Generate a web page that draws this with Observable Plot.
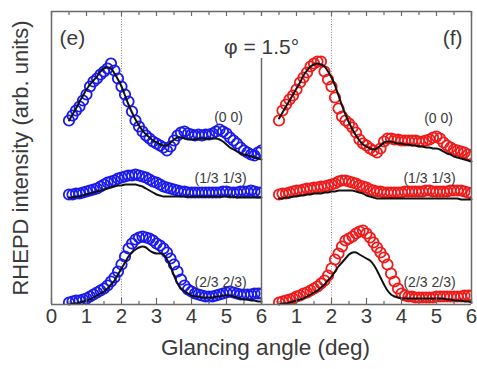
<!DOCTYPE html>
<html><head><meta charset="utf-8">
<script src="https://cdn.jsdelivr.net/npm/d3@7"></script>
<script src="https://cdn.jsdelivr.net/npm/@observablehq/plot@0.6"></script>
<style>
body{margin:0;background:#fff;}
#chart{width:477px;height:369px;}
</style>
</head><body><div id="chart"></div>
<script>
// Glancing angles (deg) at which the curves are sampled
const angles = [0.5,0.6,0.7,0.8,0.9,1.0,1.1,1.2,1.3,1.4,1.5,1.6,1.7,1.8,1.9,2.0,2.1,2.2,2.3,2.4,2.5,2.6,2.7,2.8,2.9,3.0,3.1,3.2,3.3,3.4,3.5,3.6,3.7,3.8,3.9,4.0,4.1,4.2,4.3,4.4,4.5,4.6,4.7,4.8,4.9,5.0,5.1,5.2,5.3,5.4,5.5,5.6,5.7,5.8,5.9,6.0];
const panels = ["e", "f"];
const spots = ["(0 0)", "(1/3 1/3)", "(2/3 2/3)"];
const panelColors = ["#1a1aee", "#f01a1a"];

// Panel (e) measured intensities (arb. units, vertically offset)
const e00 = [200,205,210,214,220,226,234,239,242,246,249,252,257,250,242,234,226,219,209,200,194,189,185,182,179,177,175,173,170,174,180,185,188,189,187,186,185,186,185,186,186,187,189,191,189,187,183,180,177,173,170,168,166,165,168,170];
const e13 = [126,126,127,127,128,129,130,131,132,134,136,138,139,140,142,143,144,145,145,146,145,144,143,141,139,138,136,134,133,132,131,130,129,129,128,128,128,128,128,128,128,128,128,128,129,129,128,128,128,129,129,129,130,129,128,128];
const e23 = [18,19,20,20,21,22,24,26,28,30,32,35,39,43,49,56,64,72,77,81,83,84,83,82,80,77,75,72,68,62,56,49,41,35,31,29,27,26,25,24,24,24,25,26,27,28,29,28,27,26,26,26,26,27,27,27];
// Panel (e) calculated curves
const e00fit = [200,206,212,219,225,231,236,240,244,249,252,253,252,247,241,234,225,216,208,201,195,190,186,183,180,178,176,175,175,178,181,183,183,182,181,181,181,182,182,182,182,182,182,181,179,176,173,171,169,167,166,165,164,163,162,161];
const e13fit = [123,123,124,124,125,126,127,128,129,130,131,132,133,134,135,135,136,136,136,136,135,134,132,130,128,126,125,124,124,124,124,124,124,124,124,124,124,124,124,124,124,124,124,124,124,124,124,124,123,123,123,123,123,123,123,123];
const e23fit = [16,17,17,18,19,20,21,23,25,27,29,32,36,40,46,52,58,64,68,71,73,74,73,70,68,67,67,66,61,54,45,37,32,29,27,25,24,24,23,23,23,23,24,24,25,25,25,24,23,22,21,21,20,20,19,19];

// Panel (f) measured intensities
const f00 = [200,210,216,221,225,231,238,243,248,254,257,259,259,249,241,234,223,212,204,200,197,193,188,181,177,175,172,170,168,172,179,182,182,181,181,180,180,180,180,180,179,179,180,181,183,184,182,178,175,173,171,170,169,168,166,164];
const f13 = [126,127,127,128,129,130,130,131,132,132,133,133,134,134,135,136,137,139,140,140,139,138,137,135,134,133,131,130,129,129,128,128,128,128,128,128,129,129,129,129,129,129,130,130,129,129,129,129,129,130,130,130,130,129,128,127];
const f23 = [18,19,20,21,22,24,25,27,28,30,32,34,37,40,45,52,61,67,74,80,82,84,87,89,90,87,83,78,73,68,63,56,47,39,32,27,25,24,24,23,23,23,23,23,23,24,24,24,24,24,24,24,24,25,25,25];
// Panel (f) calculated curves
const f00fit = [202,208,214,220,226,232,238,245,250,254,256,257,256,254,249,243,235,225,215,206,198,191,185,180,176,174,172,171,172,175,178,179,179,178,177,177,176,176,175,175,174,174,173,173,172,172,171,169,167,166,164,163,162,161,160,159];
const f13fit = [122,122,123,123,124,124,125,125,126,126,127,127,127,128,128,129,129,130,130,130,130,130,129,128,127,125,124,123,122,122,122,122,122,122,122,122,122,122,122,122,122,122,122,122,122,122,122,122,122,122,122,122,121,121,121,121];
const f23fit = [16,17,17,18,19,20,21,22,24,26,28,30,33,36,40,44,49,54,58,62,66,68,68,66,64,62,60,56,50,43,36,30,26,24,23,22,22,22,22,22,22,22,22,22,22,22,22,22,21,21,20,20,20,19,19,18];

// Axis ticks and labels
const majorTicks = [0,1,2,3,4,5,6];
const minorTicks = [0.5,1.5,2.5,3.5,4.5,5.5];
const tickLabelsE = [0,1,2,3,4,5,6];
const tickLabelsF = [1,2,3,4,5,6];
const yDomain = [16, 309];
const guideAngle = [2];
// spot labels: panel, text, angle, intensity
const spotLabelPanel = ["e","e","e","f","f","f"];
const spotLabelText = ["(0 0)","(1/3 1/3)","(2/3 2/3)","(0 0)","(1/3 1/3)","(2/3 2/3)"];
const spotLabelAngle = [5.06,4.83,4.83,5.06,4.8,4.8];
const spotLabelInt = [203,142,38,202,142,38];

const xLabel = "Glancing angle (deg)";
const yLabel = "RHEPD intensity (arb. units)";
const title = "φ = 1.5°";

// ---- build tables ----
const measured = {e: [e00, e13, e23], f: [f00, f13, f23]};
const fitted = {e: [e00fit, e13fit, e23fit], f: [f00fit, f13fit, f23fit]};
const pts = [], fits = [];
for (const p of panels) {
  spots.forEach((s, k) => {
    angles.forEach((a, i) => {
      pts.push({panel: p, spot: s, angle: a, intensity: measured[p][k][i]});
      fits.push({panel: p, spot: s, angle: a, intensity: fitted[p][k][i]});
    });
  });
}
const tickLabelRows = [
  ...tickLabelsE.map(v => ({panel: "e", v})),
  ...tickLabelsF.map(v => ({panel: "f", v}))
];
const spotLabels = spotLabelText.map((t, i) => ({panel: spotLabelPanel[i], t, angle: spotLabelAngle[i], intensity: spotLabelInt[i]}));

const frameColor = "#6a6a6a";
const textColor = "#3a3a3a";
const yBottom = yDomain[0], yTop = yDomain[1];

const chart = Plot.plot({
  width: 477,
  height: 369,
  marginLeft: 51,
  marginRight: 6,
  marginTop: 11,
  marginBottom: 65,
  style: {fontFamily: "'Liberation Sans', Arial, sans-serif", background: "#fff"},
  x: {domain: [0, 6], axis: null},
  y: {domain: yDomain, axis: null},
  fx: {domain: panels, padding: 0, axis: null},
  color: {domain: panels, range: panelColors},
  marks: [
    // dotted guide at 2 deg
    Plot.ruleX(guideAngle, {stroke: "#8a8a8a", strokeWidth: 1, strokeDasharray: "1,1.6"}),
    // measured points
    Plot.dot(pts, {x: "angle", y: "intensity", fx: "panel", stroke: "panel", r: 5.2, strokeWidth: 1.8, clip: true}),
    // calculated curves
    Plot.line(fits, {x: "angle", y: "intensity", z: "spot", fx: "panel", stroke: "#111", strokeWidth: 2, curve: "catmull-rom"}),
    // frame
    Plot.ruleY(yDomain, {stroke: frameColor, strokeWidth: 1.5}),
    Plot.ruleX([{panel: "e", x: 0}, {panel: "f", x: 6}], {x: "x", fx: "panel", stroke: frameColor, strokeWidth: 1.5}),
    Plot.ruleX([{panel: "e", x: 6}], {x: "x", fx: "panel", y1: 262, y2: yBottom, stroke: frameColor, strokeWidth: 1.5}),
    // inward ticks, bottom and top
    Plot.ruleX(majorTicks, {y1: yBottom, y2: yBottom + 6, stroke: frameColor, strokeWidth: 1.2}),
    Plot.ruleX(minorTicks, {y1: yBottom, y2: yBottom + 3, stroke: frameColor, strokeWidth: 1.2}),
    Plot.ruleX(majorTicks, {y1: yTop, y2: yTop - 5, stroke: frameColor, strokeWidth: 1.2}),
    Plot.ruleX(minorTicks, {y1: yTop, y2: yTop - 4, stroke: frameColor, strokeWidth: 1.2}),
    // tick labels
    Plot.text(tickLabelRows, {x: "v", fx: "panel", text: d => String(d.v), frameAnchor: "bottom", dy: 18, fontSize: 20.5, fill: textColor}),
    // spot labels
    Plot.text(spotLabels, {x: "angle", y: "intensity", fx: "panel", text: "t", fontSize: 14, fill: textColor}),
    // panel labels
    Plot.text([{panel: "e", t: "(e)"}], {fx: "panel", text: "t", frameAnchor: "top-left", textAnchor: "start", dx: 8, dy: 19, fontSize: 21, fill: textColor}),
    Plot.text([{panel: "f", t: "(f)"}], {fx: "panel", text: "t", frameAnchor: "top-right", textAnchor: "end", dx: -9, dy: 19, fontSize: 21, fill: textColor}),
    // title
    Plot.text([{panel: "f", t: title}], {fx: "panel", text: "t", frameAnchor: "top-left", textAnchor: "middle", dy: 28, fontSize: 21, fill: textColor}),
    // axis titles
    Plot.text([{panel: "f", t: xLabel}], {fx: "panel", text: "t", frameAnchor: "bottom-left", textAnchor: "middle", dx: 4, dy: 50, fontSize: 22.5, fill: textColor}),
    Plot.text([{panel: "e", t: yLabel}], {fx: "panel", text: "t", frameAnchor: "left", textAnchor: "middle", rotate: -90, dx: -31, fontSize: 22, fill: textColor})
  ]
});
document.getElementById("chart").appendChild(chart);
</script>
</body></html>
